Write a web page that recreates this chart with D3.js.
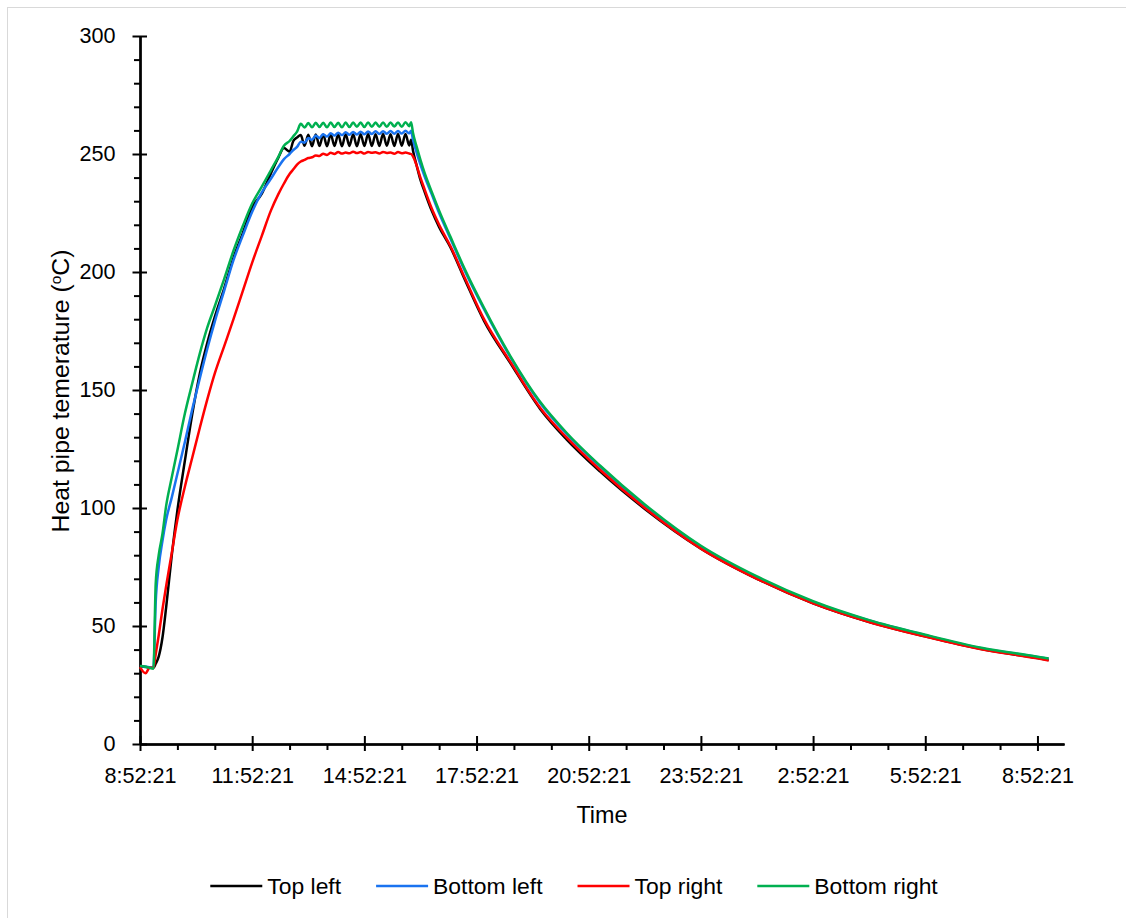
<!DOCTYPE html>
<html><head><meta charset="utf-8">
<script src="https://cdn.jsdelivr.net/npm/d3@7"></script>
<style>
html,body{margin:0;padding:0;background:#fff;}
svg{display:block;font-family:"Liberation Sans",Arial,sans-serif;}
</style></head><body>
<svg id="chart" width="1126" height="918"></svg>
<script>
// elapsed hours since 8:52:21
const hours = [
  0, 0.15, 0.25, 0.36, 0.42, 0.5, 0.6, 0.7, 0.85, 1.0, 1.2, 1.4, 1.6, 1.8, 2.0, 2.25, 2.5, 2.75, 3.0, 3.25, 3.5, 3.7, 3.85, 4.0, 4.1,
  4.2, 4.3, 4.4, 4.5, 4.6, 4.7, 4.8, 4.9, 5.0, 5.1, 5.2, 5.3, 5.4, 5.5, 5.6, 5.7, 5.8, 5.9, 6.0, 6.1, 6.2, 6.3, 6.4, 6.5, 6.6, 6.7, 6.8, 6.9, 7.0, 7.1, 7.2,
  7.25, 7.3, 7.4, 7.5, 7.6, 7.8, 8.0, 8.3, 8.7, 9.2, 9.9, 10.7, 11.4, 12.3, 13.5, 15, 16.5, 18, 19.5, 21, 22.5, 24, 24.3
];
const topLeft = [
  32.8, 32.6, 32.4, 32.2, 34, 37, 45, 58, 80, 99, 120, 140, 157, 170, 181, 193, 206, 216.5, 227.5, 233, 241.8, 248.5, 252.5, 251, 255.5,
  257, 258, 253.5, 258.2, 253.3, 258.3, 253.4, 258.3, 253.3, 258.4, 253.4, 258.3, 253.3, 258.4, 253.4, 258.4, 253.3, 258.4, 253.4, 258.5, 253.4, 258.4, 253.4, 258.5, 253.5, 258.4, 253.4, 258.5, 253.5, 258.5, 253.6,
  256, 251.5, 245, 239, 234.5, 226, 219, 210.5, 196.3, 179.3, 161.5, 142, 129.2, 115.5, 99.6, 82.8, 70, 59.6, 51.7, 45.6, 40.2, 36.4, 35.6
];
const bottomLeft = [
  32.9, 32.7, 32.5, 32.3, 60, 75, 86, 95, 104.5, 114.5, 128, 142, 155, 167.5, 179, 192, 205, 215.5, 225.5, 233.5, 239.5, 244.5, 247.8, 250, 251.7,
  253, 255.2, 254.8, 256.8, 256, 257.8, 256.8, 258.4, 257.4, 258.8, 257.8, 259, 258, 259.2, 258.2, 259.3, 258.3, 259.4, 258.4, 259.5, 258.5, 259.6, 258.5, 259.6, 258.6, 259.7, 258.6, 259.7, 258.7, 259.8, 258.8,
  259.8, 256, 250.5, 245.5, 241, 233, 225, 214.2, 200, 184.2, 164, 144.5, 131.5, 117.6, 101, 83.6, 70.6, 60.2, 52.3, 46.1, 40.6, 36.9, 36.1
];
const topRight = [
  32.6, 30.0, 32.2, 32.4, 38, 46, 57, 67, 81, 95, 109, 121.5, 134, 146, 157, 168.5, 180, 192, 204, 215, 226, 233, 237.5, 241.5, 243.5,
  245.5, 246.8, 247.5, 248.3, 248.6, 249.4, 249.2, 250.1, 249.6, 250.5, 250, 250.8, 250.2, 250.6, 250.3, 251, 250.4, 250.8, 250.2, 250.9, 250.5, 250.7, 250.2, 250.9, 250.4, 250.6, 250.1, 250.8, 250.3, 250.6, 250.2,
  250, 249, 245, 240, 235.5, 227, 220, 211, 197, 180, 162, 142.5, 130, 116.2, 100, 82.8, 70, 59.6, 51.7, 45.5, 40.1, 36.3, 35.4
];
const bottomRight = [
  33.0, 32.7, 32.3, 31.9, 68, 80, 89, 101, 113, 124.5, 140, 153, 165.5, 176.5, 185.5, 197, 209, 219.5, 229, 236, 243.1, 248.8, 253.5, 255.5, 257.5,
  259.5, 262.8, 261.2, 263.1, 261.3, 263.2, 261.4, 263.2, 261.3, 263.3, 261.4, 263.2, 261.3, 263.3, 261.4, 263.3, 261.5, 263.3, 261.4, 263.4, 261.5, 263.3, 261.5, 263.4, 261.5, 263.4, 261.6, 263.4, 261.5, 263.5, 261.8,
  263.5, 259, 253, 247.5, 242.5, 234, 226, 215, 200.7, 184.8, 164.5, 145, 132, 118, 101.5, 84, 71, 60.5, 52.5, 46.3, 40.8, 37, 36.2
];
const seriesNames = ["Top left", "Bottom left", "Top right", "Bottom right"];
const seriesColors = ["#000000", "#1a73f0", "#ff0000", "#00b050"];
const xMajorHours = [0, 3, 6, 9, 12, 15, 18, 21, 24];
const xTickLabels = ["8:52:21", "11:52:21", "14:52:21", "17:52:21", "20:52:21", "23:52:21", "2:52:21", "5:52:21", "8:52:21"];
const xMinorHours = [1, 2, 4, 5, 7, 8, 10, 11, 13, 14, 16, 17, 19, 20, 22, 23];
const yMajor = [0, 50, 100, 150, 200, 250, 300];
const yMinor = [10, 20, 30, 40, 60, 70, 80, 90, 110, 120, 130, 140, 160, 170, 180, 190, 210, 220, 230, 240, 260, 270, 280, 290];
const xTitle = "Time";
const yTitle = "Heat pipe temerature (";

const svg = d3.select("#chart");
// chart frame
svg.append("rect").attr("x", 7.5).attr("y", 7.5).attr("width", 1130).attr("height", 930)
  .attr("fill", "#fff").attr("stroke", "#d9d9d9").attr("stroke-width", 1);

const x = d3.scaleLinear().domain([0, 24.71]).range([140, 1064]);
const y = d3.scaleLinear().domain([0, 300]).range([744, 36]);

const axisStyle = g => {
  g.selectAll("path.domain").attr("stroke", "#000").attr("stroke-width", 2);
  g.selectAll(".tick line").attr("stroke", "#000").attr("stroke-width", 2);
  g.selectAll("text").attr("fill", "#000").attr("font-size", "21.6px")
    .attr("font-family", "'Liberation Sans', Arial, sans-serif");
};

// X axis: minor ticks (down), major ticks crossing
svg.append("g").attr("transform", "translate(0,744)")
  .call(d3.axisBottom(x).tickValues(xMinorHours).tickSizeInner(6).tickSizeOuter(0).tickFormat(""))
  .call(axisStyle);
svg.append("g").attr("transform", "translate(0,744)")
  .call(d3.axisBottom(x).tickValues(xMajorHours).tickSizeInner(-8).tickSizeOuter(0).tickFormat(""))
  .call(axisStyle);
svg.append("g").attr("transform", "translate(0,744)")
  .call(d3.axisBottom(x).tickValues(xMajorHours).tickSizeInner(7).tickSizeOuter(0).tickPadding(17)
    .tickFormat((d, i) => xTickLabels[i]))
  .call(axisStyle);

// Y axis
svg.append("g").attr("transform", "translate(140,0)")
  .call(d3.axisLeft(y).tickValues(yMinor).tickSizeInner(6).tickSizeOuter(0).tickFormat(""))
  .call(axisStyle);
svg.append("g").attr("transform", "translate(140,0)")
  .call(d3.axisLeft(y).tickValues(yMajor).tickSizeInner(-7).tickSizeOuter(0).tickFormat(""))
  .call(axisStyle);
svg.append("g").attr("transform", "translate(140,0)")
  .call(d3.axisLeft(y).tickValues(yMajor).tickSizeInner(7.5).tickSizeOuter(0).tickPadding(17))
  .call(axisStyle);

// Lines
const allSeries = [topLeft, bottomLeft, topRight, bottomRight];
const line = d3.line().x((d, i) => x(hours[i])).y(d => y(d)).curve(d3.curveMonotoneX);
allSeries.forEach((vals, k) => {
  svg.append("path").datum(vals)
    .attr("d", line)
    .attr("fill", "none")
    .attr("stroke", seriesColors[k])
    .attr("stroke-width", 2.5)
    .attr("stroke-linejoin", "round");
});

// Titles
svg.append("text").attr("x", 602).attr("y", 823).attr("text-anchor", "middle")
  .attr("font-size", "23.4px").attr("fill", "#000").text(xTitle);
const yt = svg.append("text").attr("transform", "translate(69,391) rotate(-90)")
  .attr("text-anchor", "middle").attr("font-size", "24.8px").attr("fill", "#000");
yt.append("tspan").text(yTitle);
yt.append("tspan").attr("font-size", "15.5px").attr("dy", "-8").text("o");
yt.append("tspan").attr("dy", "8").text("C)");

// Legend
const legend = svg.append("g");
const lineLen = 52, gapText = 5, gapItem = 35, legendY = 886;
let cursor = 0;
seriesNames.forEach((name, k) => {
  const g = legend.append("g");
  g.append("line").attr("x1", 0).attr("x2", lineLen).attr("y1", 0).attr("y2", 0)
    .attr("stroke", seriesColors[k]).attr("stroke-width", 2.5);
  const t = g.append("text").attr("x", lineLen + gapText).attr("y", 0).attr("dy", "0.35em")
    .attr("font-size", "22.9px").attr("fill", "#000").text(name);
  const w = lineLen + gapText + t.node().getComputedTextLength();
  g.attr("transform", `translate(${cursor},${legendY})`);
  cursor += w + gapItem;
});
const totalW = cursor - gapItem;
legend.attr("transform", `translate(${574 - totalW / 2},0)`);
</script>
</body></html>
